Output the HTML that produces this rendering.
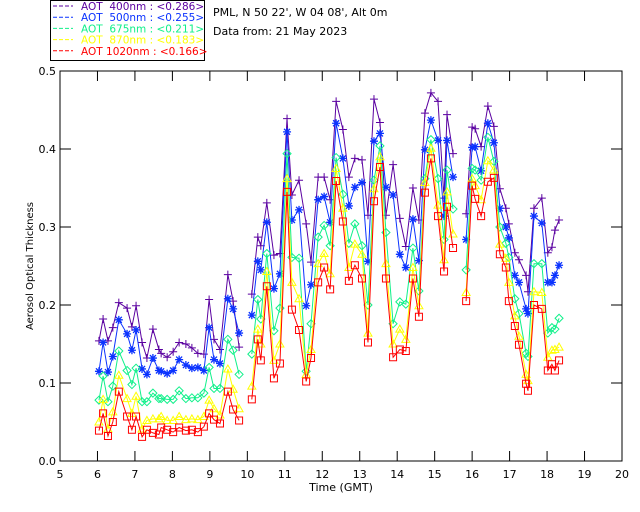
<!DOCTYPE html>
<html><head><meta charset="utf-8"><style>
body{margin:0;background:#fff;}
svg{display:block;font-family:"DejaVu Sans","Liberation Sans",sans-serif;}
</style></head><body>
<svg id="chart" width="640" height="512" viewBox="0 0 640 512" xmlns="http://www.w3.org/2000/svg">
<rect width="640" height="512" fill="#fff"/>
<g id="legend">
<rect x="50.5" y="0.5" width="154" height="60" fill="none" stroke="#000"/>
</g>
<text x="213" y="16" font-size="11" fill="#000">PML, N 50 22', W 04 08', Alt 0m</text>
<text x="213" y="35" font-size="11" fill="#000">Data from: 21 May 2023</text>
<g id="axes"></g>
<g id="plot"></g>
<text x="341" y="491" font-size="11" text-anchor="middle">Time (GMT)</text>
<text transform="translate(33,266) rotate(-90)" font-size="10" text-anchor="middle">Aerosol Optical Thickness</text>
</svg>
<script>
const times=[6.04,6.15,6.28,6.41,6.57,6.79,6.92,7.03,7.19,7.32,7.48,7.64,7.70,7.86,8.02,8.18,8.36,8.52,8.68,8.84,8.98,9.11,9.27,9.48,9.62,9.78,
10.12,10.28,10.36,10.52,10.71,10.87,11.06,11.19,11.38,11.57,11.70,11.89,12.05,12.21,12.37,12.55,12.71,12.87,13.06,13.22,13.38,13.54,13.70,13.89,14.07,14.23,14.42,14.58,14.74,14.90,15.09,15.25,15.33,15.49,
15.84,16.00,16.08,16.24,16.42,16.58,16.74,16.90,16.98,17.14,17.25,17.44,17.49,17.65,17.86,18.02,18.13,18.21,18.32];
const aot400=[0.154,0.182,0.154,0.171,0.203,0.196,0.172,0.199,0.152,0.132,0.169,0.143,0.138,0.133,0.140,0.152,0.150,0.145,0.138,0.137,0.207,0.156,0.143,0.239,0.205,0.146,
0.214,0.287,0.276,0.331,0.264,0.266,0.439,0.341,0.360,0.304,0.255,0.364,0.364,0.335,0.461,0.425,0.364,0.388,0.386,0.315,0.464,0.434,0.315,0.380,0.311,0.275,0.350,0.309,0.446,0.472,0.461,0.337,0.444,0.394,
0.317,0.428,0.426,0.403,0.455,0.429,0.349,0.324,0.304,0.267,0.258,0.238,0.217,0.324,0.337,0.267,0.274,0.296,0.309];
const aot500=[0.115,0.152,0.114,0.134,0.181,0.163,0.142,0.168,0.118,0.111,0.132,0.116,0.115,0.112,0.116,0.130,0.123,0.119,0.120,0.116,0.171,0.130,0.125,0.208,0.195,0.164,
0.187,0.256,0.245,0.306,0.221,0.240,0.422,0.309,0.322,0.199,0.226,0.335,0.339,0.306,0.433,0.388,0.327,0.351,0.357,0.256,0.410,0.420,0.351,0.341,0.265,0.248,0.310,0.257,0.399,0.437,0.411,0.314,0.411,0.364,
0.284,0.402,0.403,0.372,0.433,0.408,0.324,0.300,0.286,0.238,0.229,0.195,0.189,0.314,0.305,0.229,0.229,0.238,0.251];
const aot675=[0.078,0.109,0.076,0.096,0.141,0.116,0.098,0.119,0.076,0.076,0.087,0.080,0.080,0.079,0.079,0.090,0.080,0.081,0.081,0.087,0.120,0.093,0.093,0.156,0.142,0.111,
0.137,0.207,0.182,0.266,0.167,0.196,0.394,0.261,0.260,0.115,0.176,0.287,0.302,0.276,0.389,0.342,0.279,0.304,0.276,0.200,0.360,0.404,0.293,0.176,0.204,0.201,0.273,0.218,0.362,0.412,0.362,0.284,0.373,0.323,
0.245,0.375,0.373,0.360,0.415,0.384,0.300,0.279,0.261,0.208,0.189,0.138,0.134,0.253,0.253,0.164,0.171,0.169,0.183];
const aot870=[0.050,0.079,0.041,0.063,0.110,0.080,0.061,0.083,0.041,0.052,0.054,0.054,0.057,0.052,0.052,0.057,0.053,0.054,0.053,0.057,0.078,0.067,0.059,0.118,0.092,0.067,
0.096,0.169,0.150,0.243,0.129,0.150,0.362,0.229,0.208,0.111,0.143,0.253,0.266,0.240,0.375,0.324,0.248,0.278,0.265,0.164,0.349,0.390,0.253,0.150,0.169,0.156,0.248,0.199,0.357,0.401,0.328,0.258,0.345,0.291,
0.216,0.362,0.353,0.335,0.385,0.373,0.278,0.260,0.229,0.186,0.160,0.111,0.103,0.217,0.216,0.133,0.142,0.143,0.146];
const aot1020=[0.039,0.061,0.032,0.050,0.089,0.057,0.040,0.057,0.031,0.040,0.036,0.034,0.043,0.040,0.037,0.043,0.039,0.040,0.037,0.044,0.061,0.053,0.048,0.089,0.066,0.052,
0.079,0.156,0.129,0.224,0.106,0.125,0.345,0.194,0.168,0.102,0.132,0.229,0.248,0.220,0.359,0.307,0.231,0.251,0.234,0.152,0.333,0.377,0.234,0.133,0.143,0.141,0.234,0.185,0.344,0.388,0.314,0.243,0.326,0.273,
0.205,0.353,0.336,0.314,0.358,0.363,0.265,0.248,0.205,0.173,0.149,0.099,0.090,0.200,0.195,0.116,0.124,0.116,0.129];
const xTicks=[5,6,7,8,9,10,11,12,13,14,15,16,17,18,19,20];
const yTicks=[0.0,0.1,0.2,0.3,0.4,0.5];
const yTickLabels=["0.0","0.1","0.2","0.3","0.4","0.5"];
const legendNames=["AOT  400nm","AOT  500nm","AOT  675nm","AOT  870nm","AOT 1020nm"];
const legendMeans=["<0.286>","<0.255>","<0.211>","<0.183>","<0.166>"];

const NS="http://www.w3.org/2000/svg";
const L=60,R=622,T=71,B=461;
const xs=t=>L+(t-5)/(20-5)*(R-L);
const ys=v=>B-v/0.5*(B-T);
function mk(tag,attrs,parent){const e=document.createElementNS(NS,tag);for(const k in attrs)e.setAttribute(k,attrs[k]);parent.appendChild(e);return e;}
const axes=document.getElementById('axes'),plot=document.getElementById('plot'),leg=document.getElementById('legend');
const frame=mk('rect',{x:L,y:T,width:R-L,height:B-T,fill:'none',stroke:'#000'},axes);


xTicks.forEach(t=>{const x=xs(t);
 const a=mk('path',{d:`M${x},${B}v-10M${x},${T}v10`,stroke:'#000'},axes);
 
 
 const lb=mk('text',{x:x,y:B+17,'font-size':11,'text-anchor':'middle'},axes);lb.textContent=t;
 
 
});
yTicks.forEach((v,i)=>{const y=ys(v);
 const a=mk('path',{d:`M${L},${y}h11M${R},${y}h-11`,stroke:'#000'},axes);
 
 
 const lb=mk('text',{x:L-4,y:y+4,'font-size':11,'text-anchor':'end'},axes);lb.textContent=yTickLabels[i];
 
 
});
const series=[
 {v:aot400,c:'#5a00a0',m:'plus',n:'aot-400'},
 {v:aot500,c:'#0a32ff',m:'star',n:'aot-500'},
 {v:aot675,c:'#10f08a',m:'diamond',n:'aot-675'},
 {v:aot870,c:'#ffff00',m:'triangle',n:'aot-870'},
 {v:aot1020,c:'#ff0000',m:'square',n:'aot-1020'}];
function marker(m,x,y,c,g){let d;const r=4;
 if(m==='plus')d=`M${x-r},${y}h${2*r}M${x},${y-r}v${2*r}`;
 else if(m==='star')d=`M${x-r},${y}h${2*r}M${x},${y-r}v${2*r}M${x-3},${y-3}l6,6M${x-3},${y+3}l6,-6`;
 else if(m==='diamond')d=`M${x},${y-r}L${x+r},${y}L${x},${y+r}L${x-r},${y}Z`;
 else if(m==='triangle')d=`M${x},${y-r}L${x+r},${y+3}L${x-r},${y+3}Z`;
 else d=`M${x-3.5},${y-3.5}h7v7h-7Z`;
 const p=mk('path',{d:d,stroke:c,fill:'none','stroke-width':m==='star'?1.3:1},g);
 
 
}
series.forEach(s=>{
 const g=mk('g',{},plot);
 
 
 let d='';
 times.forEach((t,i)=>{const x=xs(t),y=ys(s.v[i]);d+=(i===0||t-times[i-1]>0.3?'M':'L')+x.toFixed(1)+','+y.toFixed(1);});
 const ln=mk('path',{d:d,stroke:s.c,fill:'none','stroke-width':1},g);
 
 
 times.forEach((t,i)=>marker(s.m,xs(t),ys(s.v[i]),s.c,g));
});
series.forEach((s,i)=>{const y=9+i*11.2;
 const dl=mk('line',{x1:53,x2:73,y1:y-3,y2:y-3,stroke:s.c,'stroke-dasharray':'4,2'},leg);
 
 
 const tx=mk('text',{x:81,y:y+1,'font-size':10.5,fill:s.c},leg);
 tx.textContent=legendNames[i]+' : '+legendMeans[i];
 tx.setAttribute('xml:space','preserve');
 tx.style.whiteSpace='pre';
 
 
});
</script>
</body></html>
